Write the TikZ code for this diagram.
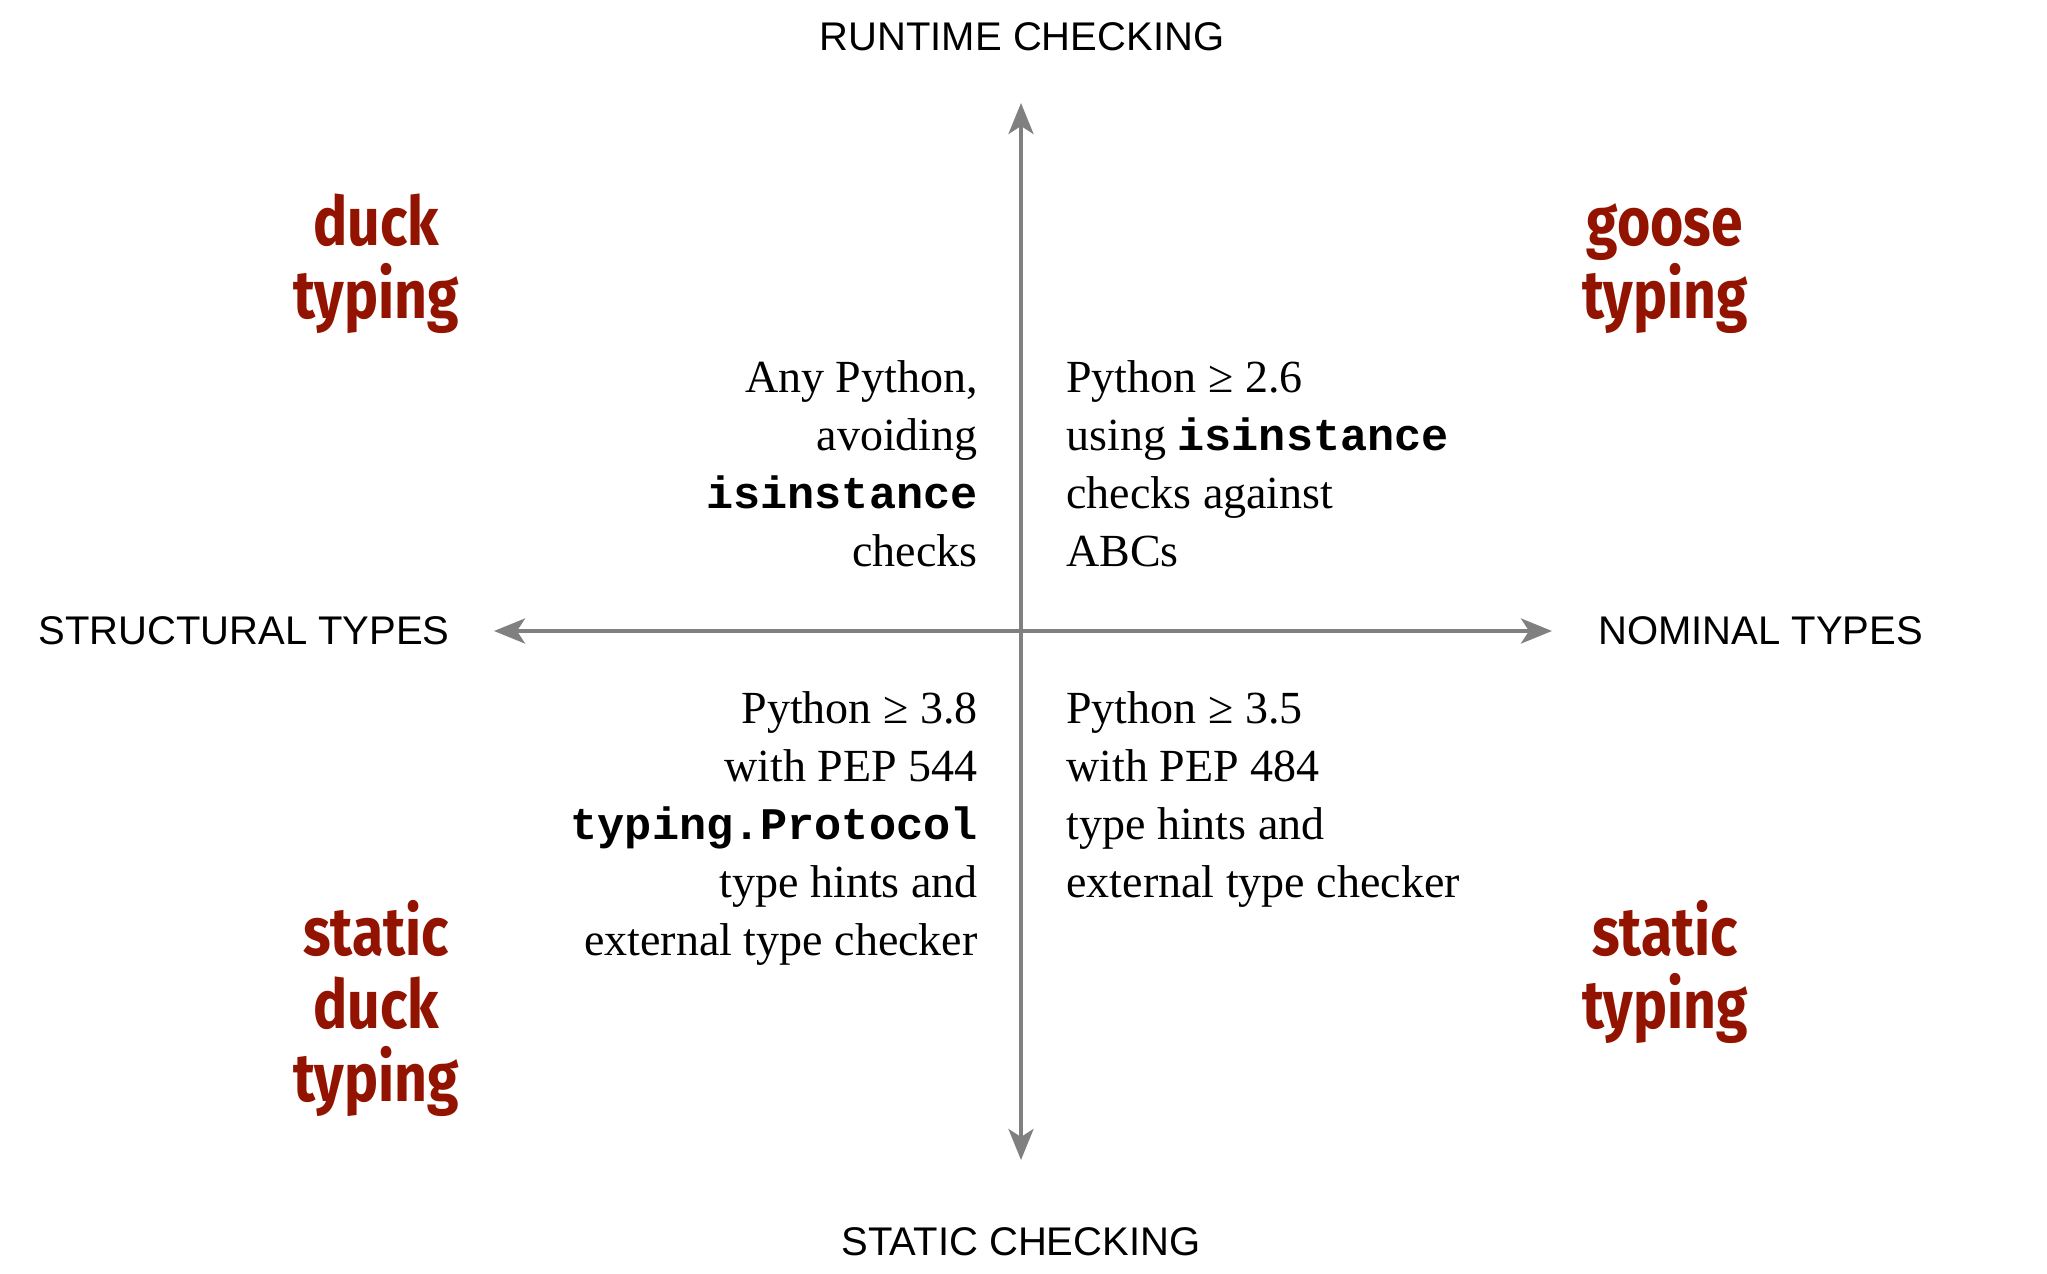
\documentclass[tikz,border=0pt]{standalone}
\usepackage{fontspec}
\setmainfont{Liberation Serif}
\setmonofont{Liberation Mono}
\newfontfamily\axisfont{Liberation Sans}
\newfontfamily\handfont{Fira Sans}[FakeStretch=0.84]
\usetikzlibrary{arrows.meta}
\definecolor{duckred}{RGB}{146,20,0}
\definecolor{axisgray}{RGB}{128,128,128}
\newcommand\pycode[1]{{\ttfamily\bfseries\fontsize{22.6}{29}\selectfont #1}}
\newcommand\centerlines[1]{\vtop{\halign{\hfil##\hfil\cr #1\crcr}}}
\begin{document}
\begin{tikzpicture}[x=0.5pt,y=-0.5pt,
  axislabel/.style={inner sep=0pt, font=\axisfont\fontsize{20}{24}\selectfont},
  bodytext/.style={inner sep=0pt, font=\fontsize{23}{29}\selectfont},
  quadlabel/.style={inner sep=0pt, text=duckred, font=\handfont\bfseries\fontsize{34}{36.5}\selectfont},
  axisline/.style={draw=axisgray, line width=2pt,
    arrows={Stealth[length=15.5pt,width=12.5pt,inset=4pt]-Stealth[length=15.5pt,width=12.5pt,inset=4pt]}}]
\useasboundingbox (0,0) rectangle (2047,1274);
% axes
\coordinate (top) at (1021,103);
\coordinate (bottom) at (1021,1160);
\coordinate (left) at (494,631);
\coordinate (right) at (1552,631);
\draw[axisline] (top) -- (bottom);
\draw[axisline] (left) -- (right);
% axis labels
\node[axislabel, anchor=base] (runtime) at (1022,50) {RUNTIME CHECKING};
\node[axislabel, anchor=base] (staticchk) at (1021,1255) {STATIC CHECKING};
\node[axislabel, anchor=base west] (structural) at (38,644) {STRUCTURAL TYPES};
\node[axislabel, anchor=base west] (nominal) at (1598,644) {NOMINAL TYPES};
% quadrant descriptions
\node[bodytext, anchor=base east] (tl) at (978,392)
  {\begin{tabular}[t]{@{}r@{}}Any Python,\\avoiding\\\pycode{isinstance}\\checks\end{tabular}};
\node[bodytext, anchor=base west] (tr) at (1066,392)
  {\begin{tabular}[t]{@{}l@{}}Python ≥ 2.6\\using \pycode{isinstance}\\checks against\\ABCs\end{tabular}};
\node[bodytext, anchor=base east] (bl) at (978,723)
  {\begin{tabular}[t]{@{}r@{}}Python ≥ 3.8\\with PEP 544\\\pycode{typing.Protocol}\\type hints and\\external type checker\end{tabular}};
\node[bodytext, anchor=base west] (br) at (1066,723)
  {\begin{tabular}[t]{@{}l@{}}Python ≥ 3.5\\with PEP 484\\type hints and\\external type checker\end{tabular}};
% quadrant names
\node[quadlabel, anchor=base] (duck) at (376,245)
  {\centerlines{duck\cr typing}};
\node[quadlabel, anchor=base] (goose) at (1665,245)
  {\centerlines{goose\cr typing}};
\node[quadlabel, anchor=base] (staticduck) at (376,955)
  {\centerlines{static\cr duck\cr typing}};
\node[quadlabel, anchor=base] (statictyping) at (1665,955)
  {\centerlines{static\cr typing}};
\end{tikzpicture}
\end{document}
